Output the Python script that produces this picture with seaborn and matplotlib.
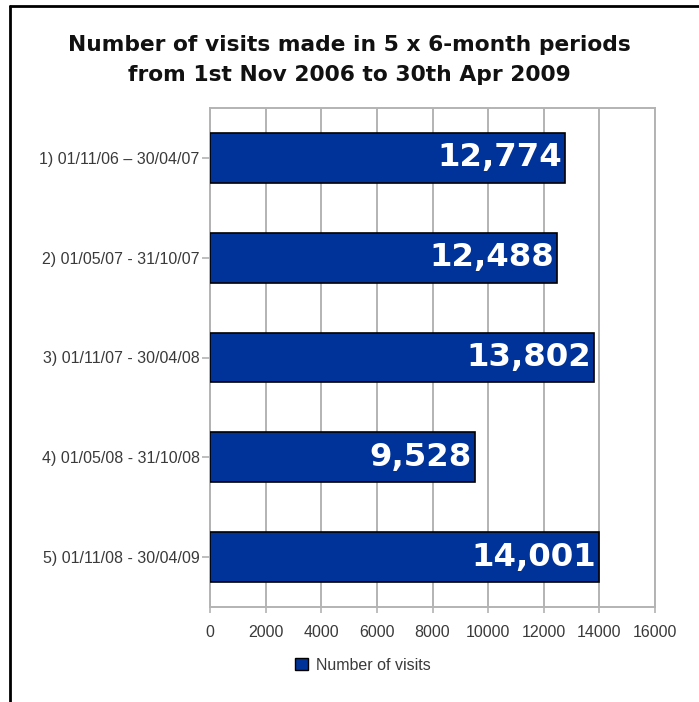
import matplotlib
matplotlib.use("Agg")
import matplotlib.pyplot as plt
import seaborn as sns
import pandas as pd
from matplotlib.lines import Line2D
from matplotlib.patches import Patch

categories = ["1) 01/11/06 \u2013 30/04/07", "2) 01/05/07 - 31/10/07", "3) 01/11/07 - 30/04/08",
              "4) 01/05/08 - 31/10/08", "5) 01/11/08 - 30/04/09"]
visits = [12774, 12488, 13802, 9528, 14001]
xticks = [0, 2000, 4000, 6000, 8000, 10000, 12000, 14000, 16000]
series_name = "Number of visits"
title = "Number of visits made in 5 x 6-month periods\nfrom 1st Nov 2006 to 30th Apr 2009"

df = pd.DataFrame({"period": categories, "visits": visits})

sns.set_style("white")
plt.rcParams["font.family"] = ["DejaVu Sans"]

W, H = 699, 702
fig = plt.figure(figsize=(W / 100, H / 100), dpi=100)
ax = fig.add_axes([210 / W, 1 - 607 / H, (655 - 210) / W, (607 - 108) / H])

bar_color = "#00339a"
sns.barplot(data=df, x="visits", y="period", orient="h", color=bar_color,
            edgecolor="black", linewidth=1.2, width=0.5, ax=ax, zorder=3, saturation=1)

tick_font = {"family": "Liberation Sans", "size": 11.5}
ax.set_xlim(0, 16000)
ax.set_xticks(xticks)
ax.set_xticklabels([str(t) for t in xticks], fontdict=tick_font, color="#3a3a3a")
ax.set_yticklabels(categories, fontdict=tick_font, color="#3a3a3a")
ax.set_xlabel("")
ax.set_ylabel("")
ax.grid(axis="x", color="#b3b3b3", linewidth=1.4, zorder=0)
ax.set_axisbelow(True)
for s in ax.spines.values():
    s.set_visible(True)
    s.set_color("#b3b3b3")
    s.set_linewidth(1.4)
ax.tick_params(axis="x", which="major", bottom=True, length=4, width=1.2, color="#b3b3b3", pad=9)
ax.tick_params(axis="y", which="major", left=True, length=6, width=1.2, color="#b3b3b3", pad=1.5)

for p, v in zip(ax.patches, visits):
    y = p.get_y() + p.get_height() / 2
    ax.text(p.get_width() - 110, y, f"{v:,}", ha="right", va="center",
            color="white", fontsize=23.3, fontweight="bold", zorder=5)

fig.text(0.5, 1 - 60 / H, title, ha="center", va="center", fontsize=15.7,
         fontweight="bold", linespacing=1.62, color="#111111")

handle = Patch(facecolor=bar_color, edgecolor="black", linewidth=1)
fig.legend([handle], [series_name], loc="center", bbox_to_anchor=(363 / W, 1 - 665 / H),
           frameon=False, prop={"family": "Liberation Sans", "size": 11.5},
           handlelength=0.8, handleheight=0.8, handletextpad=0.5, labelcolor="#3a3a3a")

fig.add_artist(Line2D([9.5 / W, 9.5 / W], [0, 1 - 5.5 / H], transform=fig.transFigure,
                      color="black", linewidth=2))
fig.add_artist(Line2D([9.5 / W, 1], [1 - 5.5 / H, 1 - 5.5 / H], transform=fig.transFigure,
                      color="black", linewidth=2))

fig.savefig("out.png", dpi=100)
